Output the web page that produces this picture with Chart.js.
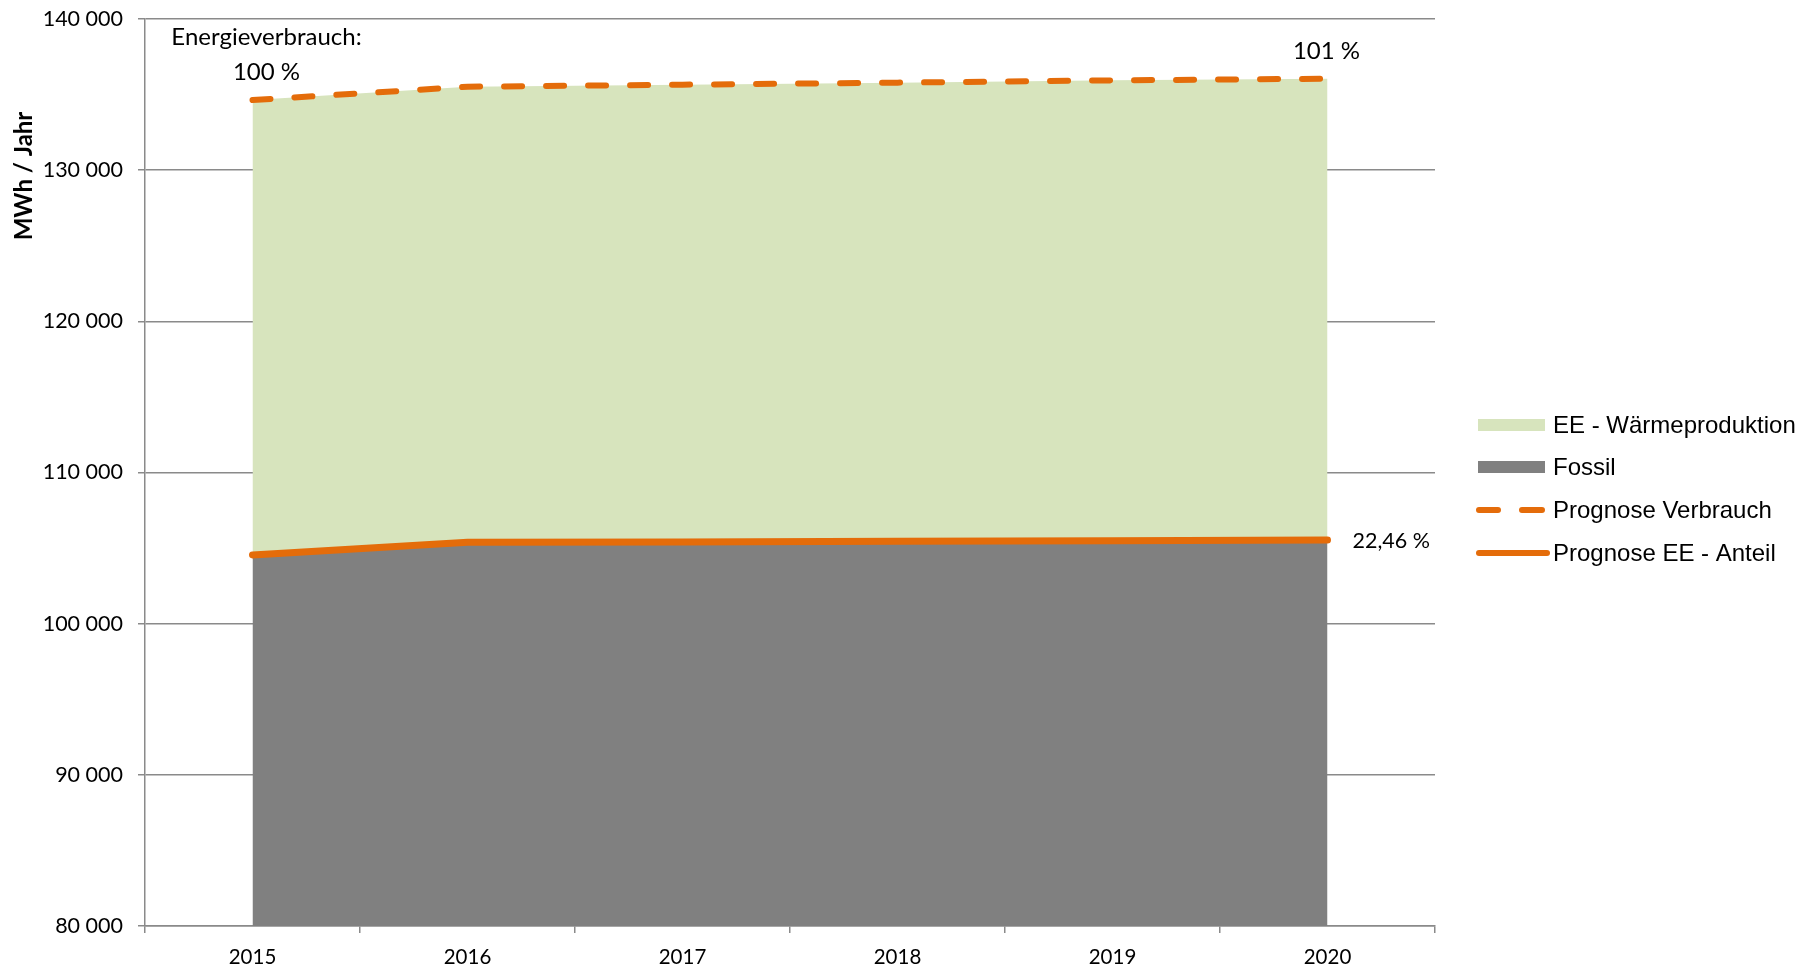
<!DOCTYPE html>
<html>
<head>
<meta charset="utf-8">
<script src="https://cdn.jsdelivr.net/npm/chart.js@4/dist/chart.umd.min.js"></script>
<style>
html,body{margin:0;padding:0;background:#fff;}
#wrap{width:1815px;height:967px;position:relative;}
</style>
</head>
<body>
<div id="wrap"><canvas id="c" width="1815" height="967"></canvas></div>
<script>
const years = ['2015','2016','2017','2018','2019','2020'];
const fossil = [104550, 105390, 105410, 105450, 105480, 105540];
const verbrauch = [134640, 135520, 135655, 135790, 135940, 136050];
const yTicks = {min: 80000, max: 140000, step: 10000};
const seriesNames = ['EE - Wärmeproduktion', 'Fossil', 'Prognose Verbrauch', 'Prognose EE - Anteil'];
const labelStart = ['Energieverbrauch:', '100 %'];
const labelEndVerbrauch = '101 %';
const labelEndAnteil = '22,46 %';
const yTitle = 'MWh / Jahr';

const ORANGE = '#E46C0A';
const GREEN = '#D7E4BD';
const GRAY = '#808080';
const GRID = '#8a8a8a';
const TICKFONT = 'Lato';
const LEGFONT = '"Liberation Sans", Arial, sans-serif';

function fmt(v){
  return String(v).replace(/\B(?=(\d{3})+(?!\d))/g, ' ');
}

const extras = {
  id: 'extras',
  afterDraw(chart){
    const ctx = chart.ctx;
    const m0 = chart.getDatasetMeta(0); // Anteil
    const m1 = chart.getDatasetMeta(1); // Verbrauch
    ctx.save();
    ctx.fillStyle = '#000';
    ctx.textAlign = 'center';
    ctx.textBaseline = 'middle';
    ctx.font = '24px ' + TICKFONT;
    const p0 = m1.data[0];
    ctx.fillText(labelStart[0], p0.x + 14, p0.y - 63);
    ctx.fillText(labelStart[1], p0.x + 14, p0.y - 28);
    const pe = m1.data[m1.data.length - 1];
    ctx.fillText(labelEndVerbrauch, pe.x - 1, pe.y - 27);
    const pa = m0.data[m0.data.length - 1];
    ctx.textAlign = 'left';
    ctx.font = '21.5px ' + TICKFONT;
    ctx.fillText(labelEndAnteil, pa.x + 25, pa.y + 1);

    // y axis title
    ctx.save();
    ctx.translate(24, 176);
    ctx.rotate(-Math.PI/2);
    ctx.textAlign = 'center';
    ctx.font = 'bold 24px ' + TICKFONT;
    ctx.fillText(yTitle, 0, 0);
    ctx.restore();

    // legend
    const lx = 1478, tx = 1553;
    const ys = [425, 467, 510, 553];
    ctx.font = '24px ' + LEGFONT;
    ctx.textAlign = 'left';
    ctx.fillStyle = GREEN;
    ctx.fillRect(lx, ys[0] - 6, 67, 12);
    ctx.fillStyle = GRAY;
    ctx.fillRect(lx, ys[1] - 6, 67, 12);
    ctx.strokeStyle = ORANGE;
    ctx.lineCap = 'round';
    ctx.lineWidth = 6;
    ctx.beginPath();
    ctx.moveTo(lx + 1, ys[2]); ctx.lineTo(lx + 20, ys[2]);
    ctx.moveTo(lx + 44, ys[2]); ctx.lineTo(lx + 64, ys[2]);
    ctx.stroke();
    ctx.beginPath();
    ctx.moveTo(lx + 1, ys[3]); ctx.lineTo(lx + 69, ys[3]);
    ctx.stroke();
    ctx.fillStyle = '#000';
    seriesNames.forEach((n, i) => ctx.fillText(n, tx, ys[i] + 1));
    ctx.restore();
  }
};

new Chart(document.getElementById('c'), {
  type: 'line',
  data: {
    labels: years,
    datasets: [
      {label: seriesNames[3], data: fossil, borderColor: ORANGE, borderWidth: 7, borderCapStyle: 'round', fill: false, pointRadius: 0, tension: 0},
      {label: seriesNames[2], data: verbrauch, borderColor: ORANGE, borderWidth: 6, borderDash: [18, 24], borderCapStyle: 'round', fill: false, pointRadius: 0, tension: 0},
      {label: seriesNames[1], data: fossil, backgroundColor: GRAY, borderWidth: 0, fill: 'origin', pointRadius: 0, tension: 0},
      {label: seriesNames[0], data: verbrauch, backgroundColor: GREEN, borderWidth: 0, fill: 2, pointRadius: 0, tension: 0}
    ]
  },
  options: {
    responsive: false,
    animation: false,
    events: [],
    layout: {padding: {top: 19, right: 380, left: 0, bottom: 0}},
    plugins: {legend: {display: false}, tooltip: {enabled: false}, title: {display: false}},
    scales: {
      x: {
        offset: true,
        afterFit(s){ s.height = 41; s.paddingLeft = 0; s.paddingRight = 0; },
        grid: {offset: true, drawOnChartArea: false, drawTicks: true, tickLength: 7, color: GRID, lineWidth: 1.5},
        border: {display: true, color: GRID, width: 1.5},
        ticks: {color: '#000', font: {family: TICKFONT, size: 20.5}, padding: 12, maxRotation: 0}
      },
      y: {
        min: yTicks.min, max: yTicks.max,
        afterFit(s){ s.width = 145; s.paddingTop = 0; s.paddingBottom = 0; },
        grid: {color: GRID, lineWidth: 1.5, drawTicks: true, tickLength: 7},
        border: {display: true, color: GRID, width: 1.5},
        ticks: {stepSize: yTicks.step, color: '#000', font: {family: TICKFONT, size: 21.5}, padding: 15, callback: v => fmt(v)}
      }
    }
  },
  plugins: [extras]
});
</script>
</body>
</html>
